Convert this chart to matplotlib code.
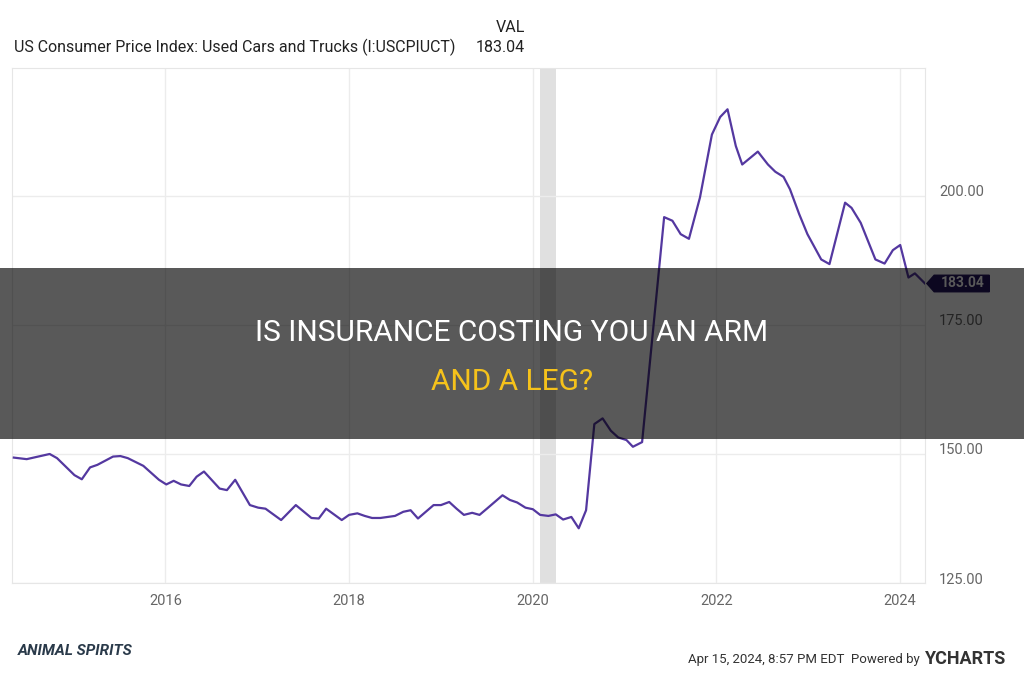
import matplotlib

matplotlib.use("Agg")
import matplotlib.pyplot as plt
from matplotlib.patches import Rectangle, Polygon
from matplotlib.transforms import ScaledTranslation

plt.rcParams["font.family"] = ["Roboto", "DejaVu Sans"]

# Used cars CPI (decimal year, index value)
years = [
    2014.35, 2014.49, 2014.74, 2014.82, 2015.01, 2015.09, 2015.18, 2015.26, 2015.43, 2015.51,
    2015.59, 2015.76, 2015.93, 2016.01, 2016.09, 2016.17, 2016.26, 2016.34, 2016.42, 2016.59,
    2016.67, 2016.76, 2016.92, 2017.01, 2017.09, 2017.26, 2017.42, 2017.59, 2017.67, 2017.75,
    2017.92, 2018.00, 2018.09, 2018.17, 2018.25, 2018.34, 2018.50, 2018.59, 2018.67, 2018.75,
    2018.92, 2019.00, 2019.09, 2019.17, 2019.25, 2019.34, 2019.42, 2019.50, 2019.67, 2019.75,
    2019.83, 2019.92, 2020.00, 2020.08, 2020.17, 2020.25, 2020.33, 2020.42, 2020.50, 2020.58,
    2020.67, 2020.76, 2020.85, 2020.93, 2021.02, 2021.09, 2021.19, 2021.43, 2021.52, 2021.61,
    2021.70, 2021.82, 2021.95, 2022.04, 2022.12, 2022.21, 2022.28, 2022.45, 2022.56, 2022.64,
    2022.73, 2022.80, 2022.90, 2022.99, 2023.14, 2023.23, 2023.40, 2023.47, 2023.57, 2023.73,
    2023.83, 2023.92, 2024.00, 2024.09, 2024.16, 2024.27,
]
values = [
    149.3, 149.0, 150.0, 149.2, 145.9, 145.1, 147.4, 147.9, 149.5, 149.6,
    149.2, 147.7, 145.0, 144.1, 144.8, 144.1, 143.8, 145.6, 146.6, 143.3,
    143.0, 145.0, 140.1, 139.6, 139.4, 137.2, 140.1, 137.6, 137.5, 139.4,
    137.2, 138.2, 138.5, 138.0, 137.6, 137.6, 138.0, 138.8, 139.1, 137.5,
    140.1, 140.1, 140.7, 139.4, 138.2, 138.6, 138.2, 139.4, 142.0, 141.1,
    140.6, 139.6, 139.3, 138.2, 138.0, 138.3, 137.3, 137.8, 135.6, 139.1,
    155.8, 156.9, 154.5, 153.2, 152.7, 151.4, 152.3, 195.9, 195.2, 192.6,
    191.7, 199.7, 211.9, 215.3, 216.8, 209.7, 206.1, 208.6, 206.1, 204.7,
    203.7, 201.3, 196.5, 192.6, 187.7, 186.8, 198.7, 197.7, 194.8, 187.7,
    186.9, 189.5, 190.5, 184.2, 185.0, 183.04,
]
recession = (2020.08, 2020.25)
yticks = [125, 150, 175, 200]
xticks = [2016, 2018, 2020, 2022, 2024]

LINE = "#5438a0"
GRID = "#ececec"
TICK = "#666666"

fig = plt.figure(figsize=(10.24, 6.74), dpi=100)
ax = fig.add_axes([12 / 1024, 1 - 583 / 674, 913 / 1024, 515 / 674])
ax.plot(years, values, color=LINE, lw=1.6, zorder=3)
ax.axvspan(*recession, color="#e0e0e0", zorder=1, lw=0)
ax.set_xlim(2014.33, 2024.27)
ax.set_ylim(125, 224.8)
ax.set_yticks(yticks)
ax.set_yticklabels([f"{v:.2f}" for v in yticks])
ax.set_xticks(xticks)
ax.yaxis.tick_right()
ax.tick_params(length=0, colors=TICK, labelsize=10.5)
ax.tick_params(axis="y", pad=10)
ax.tick_params(axis="x", pad=8)
up = ScaledTranslation(0, 5 / 100, fig.dpi_scale_trans)
for lab in ax.get_yticklabels():
    lab.set_transform(lab.get_transform() + up)
ax.grid(True, color=GRID, lw=1, zorder=0)
for s in ax.spines.values():
    s.set_color("#e6e6e6")

# last value tag
lx = 2024.27
tag_y = values[-1]
ax.add_patch(Polygon(
    [(lx + 0.02, tag_y), (lx + 0.1, tag_y + 1.6), (lx + 0.7, tag_y + 1.6),
     (lx + 0.7, tag_y - 1.6), (lx + 0.1, tag_y - 1.6)],
    closed=True, color="#24145e", clip_on=False, zorder=4))
ax.text(lx + 0.41, tag_y, f"{values[-1]:.2f}", color="white", fontsize=10,
        ha="center", va="center", zorder=5, fontweight="bold")

# header
fig.text(525 / 1024, 1 - 28 / 674, "VAL", ha="right", va="center", fontsize=11.5, color="#222")
fig.text(14 / 1024, 1 - 47 / 674, "US Consumer Price Index: Used Cars and Trucks (I:USCPIUCT)",
         ha="left", va="center", fontsize=11.5, color="#222")
fig.text(525 / 1024, 1 - 47 / 674, f"{values[-1]:.2f}", ha="right", va="center",
         fontsize=11.5, color="#222")

# footer
fig.text(18 / 1024, 1 - 651 / 674, "ANIMAL SPIRITS", ha="left", va="center", fontsize=11,
         style="italic", fontweight="bold", color="#2a3a4a")
fig.text(920 / 1024, 1 - 659 / 674, "Apr 15, 2024, 8:57 PM EDT  Powered by", ha="right",
         va="center", fontsize=9.5, color="#333")
fig.text(925 / 1024, 1 - 659 / 674, "YCHARTS", ha="left", va="center", fontsize=13,
         fontweight="bold", color="#333")

# banner overlay
fig.patches.append(Rectangle((0, 1 - 439 / 674), 1, 171 / 674, transform=fig.transFigure,
                             color="black", alpha=0.65, zorder=10, lw=0))
fig.text(0.5, 1 - 333 / 674, "IS INSURANCE COSTING YOU AN ARM", ha="center", va="center",
         fontsize=21.5, color="white", zorder=11)
fig.text(0.5, 1 - 382 / 674, "AND A LEG?", ha="center", va="center", fontsize=21.5,
         color="#f5c21b", zorder=11)

fig.savefig("out.png", dpi=100)
